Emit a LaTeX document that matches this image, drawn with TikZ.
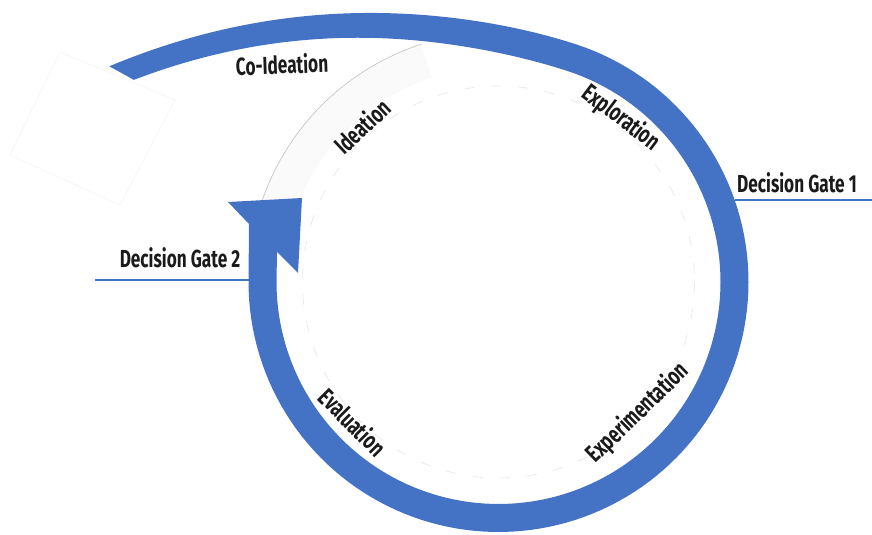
\documentclass[tikz,border=0pt]{standalone}
\usepackage{fontspec}
\newfontfamily\labfont{Fira Sans}[FakeStretch=0.70]
\definecolor{loopblue}{HTML}{4472C4}
\definecolor{labink}{HTML}{1A1A1A}
\begin{document}
\begin{tikzpicture}[x=0.03cm,y=-0.03cm,
  declare function={sp(\t)=179.6*(exp(0.015*(-72-\t))-1-0.015*(-72-\t));},
  lab/.style={font=\labfont\bfseries\fontsize{21}{25}\selectfont, text=labink, inner sep=0pt},
  gateline/.style={draw=loopblue, line width=2.2pt},
  ghost/.style={draw=black!25, line width=0.5pt}]
\useasboundingbox (0,0) rectangle (872,534);

% faint rotated sheet in the upper left
\draw[black!4, line width=0.6pt] (60,52) -- (175,100) -- (120,205) -- (10,155) -- cycle;

% faint inner guide circle
\draw[black!9, line width=0.6pt, dash pattern=on 9pt off 14pt]
  (498.5,282) circle [radius=196];

% pale shaded sector behind the Ideation label
\fill[black!2]
  plot[domain=199:252, samples=40] ({498.5+250*cos(\x)},{282+250*sin(\x)})
  -- plot[domain=252:199, samples=40] ({498.5+215*cos(\x)},{282+215*sin(\x)}) -- cycle;
\draw[ghost] plot[domain=199:252, samples=40] ({498.5+250*cos(\x)},{282+250*sin(\x)});

% the blue spiral band ending in the arrowhead
\fill[loopblue]
  plot[domain=-151:-72, samples=80] ({498.5+(250+sp(\x))*cos(\x)},{282+(250+sp(\x))*sin(\x)})
  -- plot[domain=-72:180, samples=120] ({498.5+250*cos(\x)},{282+250*sin(\x)})
  -- (249,224) -- (228,202) -- (302,198) -- (298,273) -- (277,252)
  -- plot[domain=180:-72, samples=120] ({498.5+222*cos(\x)},{282+222*sin(\x)})
  -- plot[domain=-72:-151, samples=80] ({498.5+(222+sp(\x))*cos(\x)},{282+(222+sp(\x))*sin(\x)})
  -- cycle;

% decision gates
\coordinate (g1a) at (735,200);
\coordinate (g1b) at (872,200);
\coordinate (g2a) at (95,280);
\coordinate (g2b) at (249,280);
\draw[gateline] (g1a) -- (g1b);
\draw[gateline] (g2a) -- (g2b);
\node[lab] (gate1) at (797,183) {Decision Gate 1};
\node[lab] (gate2) at (180,258) {Decision Gate 2};

% phase labels
\node[lab, rotate=2]   (coid) at (282,64)  {Co-Ideation};
\node[lab, rotate=43]  (idea) at (362,126) {Ideation};
\node[lab, rotate=-37] (expl) at (621,118) {Exploration};
\node[lab, rotate=44]  (expe) at (638,413) {Experimentation};
\node[lab, rotate=-45] (eval) at (353,422) {Evaluation};
\end{tikzpicture}
\end{document}
